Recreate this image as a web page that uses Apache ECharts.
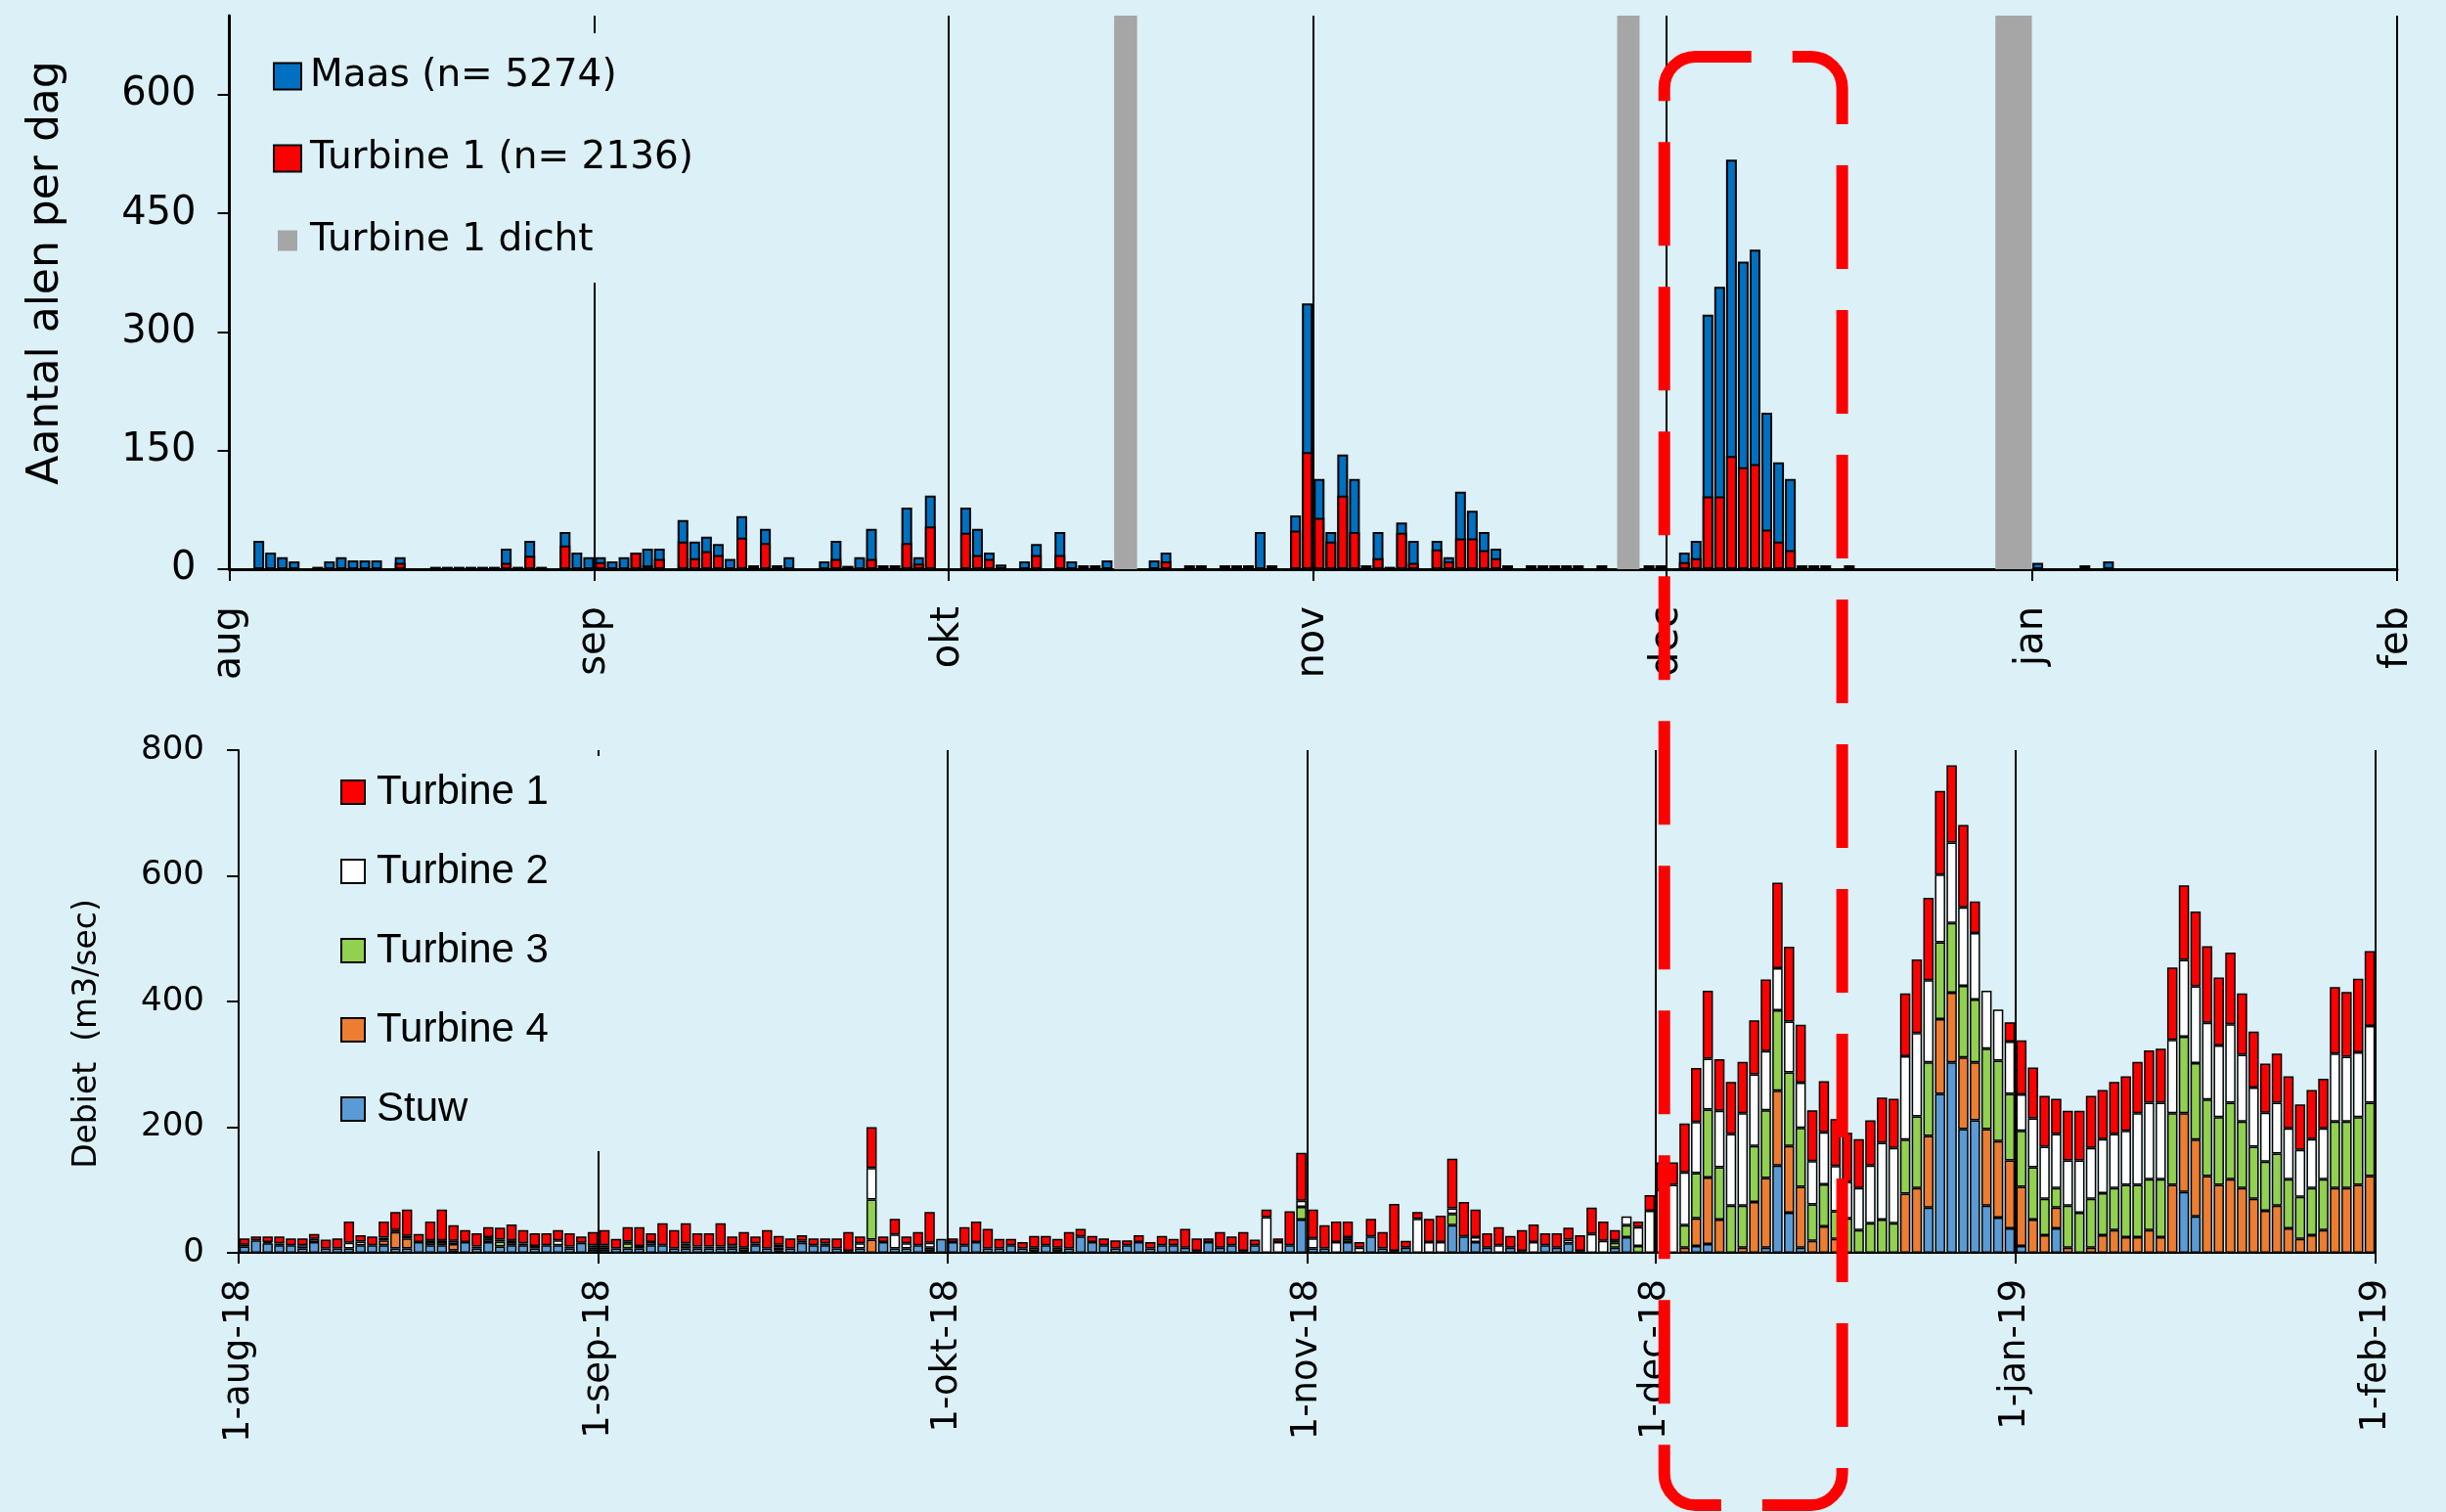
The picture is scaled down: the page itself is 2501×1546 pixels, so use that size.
<!DOCTYPE html>
<html>
<head>
<meta charset="utf-8">
<title>Alen en debiet</title>
<script src="https://cdn.jsdelivr.net/npm/echarts@6.0.0/dist/echarts.min.js"></script>
<style>
  html, body { margin: 0; padding: 0; background: #DBF0F7; }
  #chart { width: 2501px; height: 1546px; }
</style>
</head>
<body>
<div id="chart"></div>
<script>
// day index 0 = 1 aug 2018, 184 = 1 feb 2019
var monthTicks = [0, 31, 61, 92, 122, 153, 184];
var topTickLabels = ['aug', 'sep', 'okt', 'nov', 'dec', 'jan', 'feb'];
var bottomTickLabels = ['1-aug-18', '1-sep-18', '1-okt-18', '1-nov-18', '1-dec-18', '1-jan-19', '1-feb-19'];
var topMonthLines = [31, 61, 92, 122, 184];
var bottomMonthLines = [31, 61, 92, 122, 153, 184];
var topYTicks = [0, 150, 300, 450, 600];
var closedPeriods = [[75.1, 77.05], [117.8, 119.7], [149.9, 153]];
var boxDays = [121.8, 136.9];

// aantal alen per dag
var maas = [
  0,0,36,21,15,10,0,3,10,15,11,11,11,0,15,0,0,3,3,3,3,3,3,26,3,36,3,0,47,21,15,
  15,10,15,21,26,26,0,62,35,41,32,13,67,5,51,5,15,0,0,10,36,4,15,51,5,5,78,15,93,0,
  0,78,51,21,6,0,10,32,0,47,10,5,5,11,0,0,0,11,21,0,5,5,0,5,5,5,47,5,0,68,336,
  114,47,145,114,5,47,3,59,36,0,36,15,98,74,47,26,5,0,5,5,5,5,5,0,5,0,0,0,5,5,
  0,21,36,322,357,518,389,404,198,135,114,5,5,5,0,5,0,0,0,0,0,0,0,0,0,0,0,0,0,0,0,
  8,0,0,0,5,0,10,0,0,0,0,0,0,0,0,0,0,0,0,0,0,0,0,0,0,0,0,0,0,0,0
];
var turbine1Eels = [
  0,0,0,0,0,0,0,0,0,0,0,0,0,0,8,0,0,0,0,0,0,0,0,8,0,17,0,0,30,0,0,
  9,0,0,21,5,13,0,35,14,23,18,0,40,0,33,0,0,0,0,0,13,4,0,13,0,0,33,7,54,0,
  0,46,18,13,0,0,0,18,0,18,0,0,0,0,0,0,0,0,10,0,0,0,0,0,0,0,0,0,0,49,148,
  65,35,93,47,0,14,0,46,8,0,25,10,39,39,24,14,0,0,0,0,0,0,0,0,0,0,0,0,0,0,
  0,9,14,92,92,143,129,133,50,35,24,0,0,0,0,0,0,0,0,0,0,0,0,0,0,0,0,0,0,0,0,
  0,0,0,0,0,0,0,0,0,0,0,0,0,0,0,0,0,0,0,0,0,0,0,0,0,0,0,0,0,0,0
];

// debiet (m3/sec) per dag
var stuw = [
  10,20,15,12,12,7,17,7,7,7,12,12,12,7,7,17,12,12,4,17,7,17,10,12,12,7,12,12,7,16,5,
  5,7,7,7,12,12,7,7,7,7,7,7,3,12,7,4,7,16,12,12,7,3,7,0,17,7,7,12,3,22,
  17,12,17,7,7,12,7,3,12,3,7,26,17,12,7,12,17,7,12,12,8,3,17,8,12,3,12,0,0,12,53,
  7,7,0,17,0,26,7,3,8,0,0,0,44,26,17,8,0,8,3,0,12,8,15,3,0,0,8,25,0,0,
  0,0,0,11,14,0,0,0,0,8,139,64,8,0,0,0,0,0,0,0,0,0,0,72,253,303,197,211,75,56,39,
  11,0,0,39,0,0,0,0,0,0,0,0,0,0,97,58,0,0,0,0,0,0,0,0,0,0,0,0,0,0,0
];
var turbine4 = [
  0,0,0,0,0,0,0,0,0,0,0,0,8,26,16,0,5,5,10,0,0,0,0,0,0,0,0,0,0,0,0,
  0,0,0,0,0,0,0,0,0,0,0,0,0,0,0,0,0,0,0,0,0,0,0,21,0,0,0,0,0,0,
  0,0,0,0,0,0,0,0,0,0,0,0,0,0,0,0,0,0,0,0,0,0,0,0,0,0,0,0,0,0,0,
  0,0,0,0,0,0,0,0,0,0,0,0,0,0,0,0,0,0,0,0,0,0,0,0,0,0,0,0,0,0,
  0,0,8,44,106,53,0,8,81,111,119,106,97,19,42,22,0,0,0,0,0,94,103,114,119,111,114,92,122,122,108,
  94,53,28,33,8,0,8,28,36,25,25,36,25,108,125,122,122,108,117,103,86,67,75,39,22,28,36,103,103,108,122
];
var turbine3 = [
  0,0,0,0,0,0,0,0,0,0,0,0,0,0,0,0,0,0,0,0,0,5,8,5,0,0,0,0,0,0,4,
  4,0,8,0,0,0,0,5,0,0,0,0,0,0,0,4,0,0,0,0,0,0,0,64,0,0,0,0,5,0,
  0,0,0,0,0,0,0,0,0,5,0,0,0,0,0,0,0,0,0,0,0,0,0,0,0,0,0,0,0,0,20,
  0,0,0,5,0,0,0,0,0,0,0,0,18,0,0,0,0,0,0,0,0,0,0,0,0,0,8,19,11,0,
  0,0,36,72,108,83,75,67,89,108,128,117,94,58,67,44,55,36,47,53,47,86,114,117,122,111,114,100,128,128,106,
  89,83,58,31,67,64,78,67,67,83,83,81,92,114,122,122,122,108,122,106,83,78,83,78,67,75,81,106,106,108,117
];
var turbine2 = [
  3,0,2,3,0,5,5,0,0,9,6,0,4,3,4,0,3,3,5,0,3,3,3,3,3,4,0,8,3,0,3,
  3,0,3,4,5,0,0,3,3,3,3,5,5,3,0,5,0,3,0,3,0,0,8,50,0,22,8,0,8,0,
  0,0,0,0,0,0,0,5,0,0,0,0,0,0,0,0,0,0,0,0,0,0,0,0,0,0,0,57,17,0,10,
  16,0,17,3,8,0,0,0,0,54,17,17,9,0,8,0,12,0,0,17,0,0,6,0,30,19,4,14,30,67,
  100,108,84,81,81,90,114,147,114,94,67,81,72,69,83,72,58,67,92,122,120,133,133,131,108,128,125,106,92,81,83,
  58,78,83,86,72,83,81,86,86,86,114,122,122,117,122,122,122,114,125,106,94,78,81,81,75,78,81,108,103,103,122
];
var turbine1Flow = [
  10,6,9,11,11,11,8,14,16,34,10,14,26,29,42,13,30,49,25,19,21,16,19,25,21,20,19,16,21,10,21,
  24,15,23,30,14,35,29,32,21,21,37,14,25,11,29,14,16,9,11,8,16,30,11,65,9,25,11,21,49,0,
  6,29,33,31,15,10,10,19,15,14,26,12,10,11,13,8,11,10,15,10,30,20,6,25,14,30,9,12,6,54,76,
  46,37,33,25,9,28,26,75,11,11,37,42,79,55,44,23,29,19,33,28,19,23,19,25,42,31,16,0,9,25,
  44,36,78,86,108,82,83,82,86,114,136,119,92,81,81,75,78,78,72,72,78,100,117,131,133,123,131,50,0,0,31,
  86,81,81,56,79,79,83,78,83,87,82,83,86,115,119,119,122,108,114,98,89,78,78,83,72,78,79,106,103,117,119
];

// one category per day for the stacked flow bars
var dayCategories = [];
for (var i = 0; i < stuw.length; i++) {
  var d = new Date(Date.UTC(2018, 7, 1 + i));
  dayCategories.push(d.toISOString().slice(0, 10));
}

var bg = '#DBF0F7';

function toPairs(arr) {
  return arr.map(function (v, i) { return [i + 0.5, v > 0 ? v : null]; });
}

function nonZero(arr) {
  return arr.map(function (v) { return v > 0 ? v : '-'; });
}

function monthLines(days) {
  return {
    silent: true,
    symbol: ['none', 'none'],
    label: { show: false },
    lineStyle: { color: '#000', width: 2, type: 'solid' },
    emphasis: { disabled: true },
    data: days.map(function (d) { return { xAxis: d }; })
  };
}

function flowSeries(name, values, color) {
  return {
    name: name, type: 'bar', stack: 'debiet', xAxisIndex: 1, yAxisIndex: 1,
    barWidth: 10.5,
    itemStyle: { color: color, borderColor: '#000', borderWidth: 1.5 },
    emphasis: { disabled: true },
    data: nonZero(values)
  };
}

var myChart = echarts.init(document.getElementById('chart'));

var sansFont = 'DejaVu Sans';

var option = {
  backgroundColor: bg,
  animation: false,
  grid: [
    { left: 234.5, top: 16, width: 2216.5, height: 566 },
    { left: 244, top: 767, width: 2185, height: 514 }
  ],
  legend: [
    {
      orient: 'vertical', left: 269, top: 34,
      padding: [22, 14, 21, 10],
      itemWidth: 28, itemHeight: 27, itemGap: 40,
      icon: 'rect', selectedMode: false,
      backgroundColor: bg, z: 10,
      itemStyle: { borderColor: '#000', borderWidth: 2 },
      textStyle: { fontFamily: sansFont, fontSize: 39, color: '#000', lineHeight: 44, padding: [0, 0, 0, 4] },
      data: [
        { name: 'Maas (n= 5274)' },
        { name: 'Turbine 1 (n= 2136)' },
        { name: 'Turbine 1 dicht', icon: 'path://M0,0M28,27M4,3h20v21h-20z', itemStyle: { borderWidth: 0, color: '#A6A6A6' } }
      ]
    },
    {
      orient: 'vertical', left: 338, top: 773,
      padding: [15, 70, 21, 10],
      itemWidth: 24, itemHeight: 24, itemGap: 37,
      icon: 'rect', selectedMode: false,
      backgroundColor: bg, z: 10,
      itemStyle: { borderColor: '#000', borderWidth: 2 },
      textStyle: { fontFamily: 'Liberation Sans', fontSize: 42, color: '#000', lineHeight: 44, padding: [0, 0, 0, 7] },
      data: ['Turbine 1', 'Turbine 2', 'Turbine 3', 'Turbine 4', 'Stuw']
    }
  ],
  xAxis: [
    {
      type: 'value', gridIndex: 0, min: 0, max: 184,
      axisLine: { lineStyle: { color: '#000', width: 3 } },
      axisTick: { show: true, customValues: monthTicks, length: 12, lineStyle: { color: '#000', width: 2 } },
      axisLabel: {
        customValues: monthTicks, rotate: 90, margin: 38,
        fontFamily: sansFont, fontSize: 40, color: '#000',
        formatter: function (v) { return topTickLabels[monthTicks.indexOf(v)]; }
      },
      splitLine: { show: false }
    },
    {
      type: 'category', gridIndex: 1, position: 'bottom', show: false,
      boundaryGap: true, data: dayCategories
    },
    {
      type: 'value', gridIndex: 1, position: 'bottom', min: 0, max: 184,
      axisLine: { lineStyle: { color: '#000', width: 2 } },
      axisTick: { show: true, customValues: monthTicks, length: 11, lineStyle: { color: '#000', width: 2 } },
      axisLabel: {
        customValues: monthTicks, rotate: 90, margin: 27,
        fontFamily: sansFont, fontSize: 37, color: '#000',
        formatter: function (v) { return bottomTickLabels[monthTicks.indexOf(v)]; }
      },
      splitLine: { show: false }
    }
  ],
  yAxis: [
    {
      type: 'value', gridIndex: 0, min: 0, max: 700,
      axisLine: { show: true, lineStyle: { color: '#000', width: 3 } },
      axisTick: { show: true, customValues: topYTicks, length: 12, lineStyle: { color: '#000', width: 2 } },
      axisLabel: { customValues: topYTicks, margin: 34, fontFamily: sansFont, fontSize: 40, color: '#000' },
      splitLine: { show: false },
      name: 'Aantal alen per dag', nameLocation: 'middle', nameGap: 165,
      nameTextStyle: { fontFamily: sansFont, fontSize: 44, color: '#000', padding: [0, 0, 0, 40] }
    },
    {
      type: 'value', gridIndex: 1, min: 0, max: 800, interval: 200,
      axisLine: { show: true, lineStyle: { color: '#000', width: 2 } },
      axisTick: { show: true, length: 12, lineStyle: { color: '#000', width: 2 } },
      axisLabel: { margin: 35, fontFamily: sansFont, fontSize: 34, color: '#000' },
      splitLine: { show: false },
      name: 'Debiet  (m3/sec)', nameLocation: 'middle', nameGap: 138,
      nameTextStyle: { fontFamily: sansFont, fontSize: 33, color: '#000', padding: [0, 66, 0, 0] }
    }
  ],
  series: [
    {
      name: 'Maas (n= 5274)', type: 'bar', xAxisIndex: 0, yAxisIndex: 0,
      barWidth: 11, barGap: '-100%',
      itemStyle: { color: '#0070C0', borderColor: '#000', borderWidth: 2 },
      emphasis: { disabled: true },
      data: toPairs(maas),
      markLine: monthLines(topMonthLines)
    },
    {
      name: 'Turbine 1 (n= 2136)', type: 'bar', xAxisIndex: 0, yAxisIndex: 0,
      barWidth: 11, barGap: '-100%',
      itemStyle: { color: '#FF0000', borderColor: '#000', borderWidth: 2 },
      emphasis: { disabled: true },
      data: toPairs(turbine1Eels)
    },
    {
      name: 'Turbine 1 dicht', type: 'line', xAxisIndex: 0, yAxisIndex: 0,
      itemStyle: { color: '#A6A6A6' }, lineStyle: { color: '#A6A6A6' },
      data: [],
      markArea: {
        silent: true,
        itemStyle: { color: '#A6A6A6' },
        data: closedPeriods.map(function (p) { return [{ xAxis: p[0] }, { xAxis: p[1] }]; })
      }
    },
    flowSeries('Stuw', stuw, '#5B9BD5'),
    flowSeries('Turbine 4', turbine4, '#ED7D31'),
    flowSeries('Turbine 3', turbine3, '#92D050'),
    flowSeries('Turbine 2', turbine2, '#FFFFFF'),
    flowSeries('Turbine 1', turbine1Flow, '#FF0000'),
    {
      name: 'maandgrenzen', type: 'line', xAxisIndex: 2, yAxisIndex: 1,
      data: [], markLine: monthLines(bottomMonthLines)
    }
  ]
};

myChart.setOption(option);

// red dashed highlight box around the december peak
var boxLeft = myChart.convertToPixel({ xAxisIndex: 0 }, boxDays[0]);
var boxRight = myChart.convertToPixel({ xAxisIndex: 0 }, boxDays[1]);
myChart.setOption({
  graphic: [{
    type: 'rect', silent: true, z: 100,
    shape: { x: boxLeft, y: 58, width: boxRight - boxLeft, height: 1481, r: 32 },
    style: { fill: 'none', stroke: '#FF0000', lineWidth: 12, lineDash: [106, 42], lineDashOffset: 49 }
  }]
});

window.addEventListener('resize', function () {
  myChart.resize();
});
</script>
</body>
</html>
